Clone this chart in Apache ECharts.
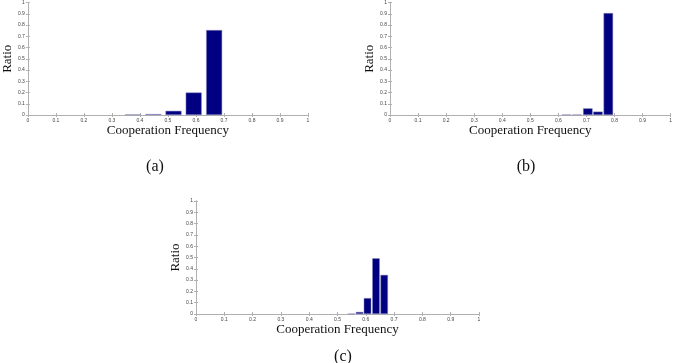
<!DOCTYPE html>
<html>
<head>
<meta charset="utf-8">
<script src="https://cdn.jsdelivr.net/npm/echarts@6/dist/echarts.min.js"></script>
<style>
  html, body { margin: 0; padding: 0; background: #fff; }
  #main { width: 675px; height: 363px; }
</style>
</head>
<body>
<div id="main"></div>
<script>
// bin centres and ratios
var binsA = [0.375, 0.448, 0.520, 0.592, 0.665]
var ratioA = [0.005, 0.008, 0.037, 0.20, 0.755]
var binsB = [0.629, 0.666, 0.705, 0.741, 0.778]
var ratioB = [0.003, 0.003, 0.059, 0.030, 0.906]
var binsC = [0.549, 0.578, 0.606, 0.636, 0.665]
var ratioC = [0.002, 0.018, 0.141, 0.493, 0.346]
var ticks = [0, 0.1, 0.2, 0.3, 0.4, 0.5, 0.6, 0.7, 0.8, 0.9, 1]
var panelNames = ['(a)', '(b)', '(c)']

var serif = 'Liberation Serif, Times New Roman, serif'
var barColor = '#000080'
var boxColor = '#b0b0b0'

function pairs (xs, ys) {
  return xs.map(function (x, i) { return [x, ys[i]] })
}

var grids = [
  { left: 24, top: 2, width: 284, height: 113 },
  { left: 390, top: 2, width: 284, height: 113 },
  { left: 196, top: 201, width: 283, height: 113 }
]

var xAxes = []
var yAxes = []
grids.forEach(function (g, i) {
  // main axes with labels
  xAxes.push({
    gridIndex: i,
    type: 'value',
    min: 0,
    max: 1,
    interval: 0.1,
    name: 'Cooperation Frequency',
    nameLocation: 'middle',
    nameGap: 6,
    nameTextStyle: { fontFamily: serif, fontSize: 13, color: '#111', verticalAlign: 'top' },
    axisLine: { show: true, lineStyle: { color: boxColor, width: 1 } },
    axisTick: { show: true, inside: true, length: 2, lineStyle: { color: boxColor } },
    axisLabel: {
      fontSize: 5,
      color: '#444',
      margin: 3,
      formatter: function (v) { return ticks.indexOf(Math.round(v * 10) / 10) >= 0 ? String(Math.round(v * 10) / 10) : '' }
    },
    splitLine: { show: false }
  })
  yAxes.push({
    gridIndex: i,
    type: 'value',
    min: 0,
    max: 1,
    interval: 0.1,
    name: 'Ratio',
    nameLocation: 'middle',
    nameGap: 12,
    nameTextStyle: { fontFamily: serif, fontSize: 13, color: '#111' },
    axisLine: { show: true, lineStyle: { color: boxColor, width: 1 } },
    axisTick: { show: true, inside: true, length: 2, lineStyle: { color: boxColor } },
    axisLabel: {
      fontSize: 5,
      color: '#444',
      margin: 3,
      formatter: function (v) { return String(Math.round(v * 10) / 10) }
    },
    splitLine: { show: false }
  })
})
// top / right box lines with inward ticks
grids.forEach(function (g, i) {
  xAxes.push({
    gridIndex: i,
    type: 'value',
    position: 'top',
    min: 0,
    max: 1,
    interval: 0.1,
    axisLine: { show: true, lineStyle: { color: boxColor, width: 1 } },
    axisTick: { show: true, inside: true, length: 2, lineStyle: { color: boxColor } },
    axisLabel: { show: false },
    splitLine: { show: false }
  })
  yAxes.push({
    gridIndex: i,
    type: 'value',
    position: 'right',
    min: 0,
    max: 1,
    interval: 0.1,
    axisLine: { show: true, lineStyle: { color: boxColor, width: 1 } },
    axisTick: { show: true, inside: true, length: 2, lineStyle: { color: boxColor } },
    axisLabel: { show: false },
    splitLine: { show: false }
  })
})

function barSeries (idx, xs, ys, w) {
  return {
    type: 'bar',
    xAxisIndex: idx,
    yAxisIndex: idx,
    barWidth: w,
    itemStyle: { color: barColor, borderColor: '#8888bb', borderWidth: 0.5 },
    data: pairs(xs, ys)
  }
}

var chart = echarts.init(document.getElementById('main'))
chart.setOption({
  animation: false,
  backgroundColor: '#fff',
  title: [
    { text: panelNames[0], left: 150, top: 162, textAlign: 'center', textVerticalAlign: 'middle', textStyle: { fontFamily: serif, fontSize: 16, fontWeight: 'normal', color: '#111' } },
    { text: panelNames[1], left: 521, top: 162, textAlign: 'center', textVerticalAlign: 'middle', textStyle: { fontFamily: serif, fontSize: 16, fontWeight: 'normal', color: '#111' } },
    { text: panelNames[2], left: 338, top: 352, textAlign: 'center', textVerticalAlign: 'middle', textStyle: { fontFamily: serif, fontSize: 16, fontWeight: 'normal', color: '#111' } }
  ],
  grid: grids,
  xAxis: xAxes,
  yAxis: yAxes,
  series: [
    barSeries(0, binsA, ratioA, 16),
    barSeries(1, binsB, ratioB, 9.5),
    barSeries(2, binsC, ratioC, 7.5)
  ]
})
</script>
</body>
</html>
